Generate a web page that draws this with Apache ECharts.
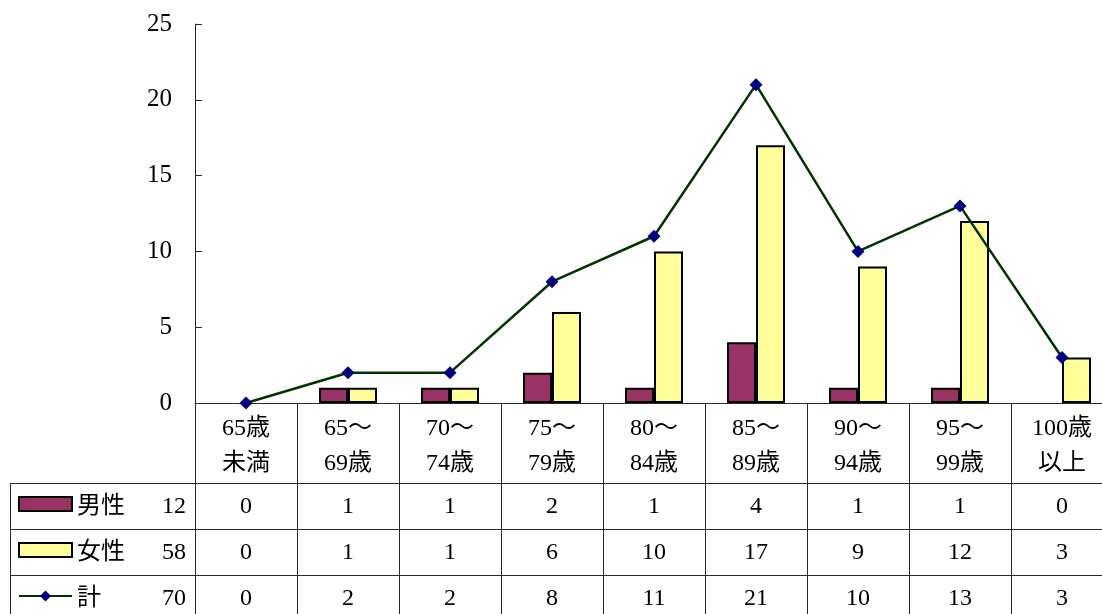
<!DOCTYPE html>
<html>
<head>
<meta charset="utf-8">
<script src="https://cdn.jsdelivr.net/npm/echarts@6/dist/echarts.min.js"></script>
<style>
  html, body { margin: 0; padding: 0; background: #fff; }
  #chart { width: 1102px; height: 614px; }
</style>
</head>
<body>
<div id="chart"></div>
<script>
// 年齢階級別の人数
const categories = ['65歳\n未満', '65～\n69歳', '70～\n74歳', '75～\n79歳', '80～\n84歳', '85～\n89歳', '90～\n94歳', '95～\n99歳', '100歳\n以上'];
const seriesNames = ['男性', '女性', '計'];
const male = [0, 1, 1, 2, 1, 4, 1, 1, 0];
const female = [0, 1, 1, 6, 10, 17, 9, 12, 3];
const total = [0, 2, 2, 8, 11, 21, 10, 13, 3];
// 合計欄（表の左列に記載されている値）
const rowTotals = [12, 58, 70];
const yTicks = [0, 5, 10, 15, 20, 25];

const FONT = '"Liberation Serif", "DejaVu Serif", "Noto Sans CJK JP", serif';
const LINE = '#2a2a2a';
const noZero = a => a.map(v => (v === 0 ? '-' : v));

// one hidden-line category axis per data-table row
function tableRow(values, offset) {
  return {
    type: 'category', data: categories, position: 'bottom', offset: offset,
    axisLine: { show: false }, axisTick: { show: false },
    axisLabel: {
      interval: 0, margin: 9, color: '#000', fontFamily: FONT, fontSize: 24, lineHeight: 30,
      formatter: (v, i) => String(values[i])
    }
  };
}

const chart = echarts.init(document.getElementById('chart'));
chart.setOption({
  animation: false,
  backgroundColor: '#fff',
  grid: { left: 195, top: 24, width: 918, bottom: 211, containLabel: false, outerBoundsMode: 'none' },
  legend: {
    orient: 'vertical', left: 18, top: 489, itemGap: 16, padding: 0, height: 130,
    itemWidth: 53, itemHeight: 14,
    data: [
      { name: seriesNames[0], icon: 'rect' },
      { name: seriesNames[1], icon: 'rect' },
      { name: seriesNames[2] }
    ],
    formatter: n => `{n|${n}}{v|${rowTotals[seriesNames.indexOf(n)]}}`,
    textStyle: {
      rich: {
        n: { fontFamily: FONT, fontSize: 24, color: '#000', width: 60, lineHeight: 30, padding: [6, 0, 0, 0] },
        v: { fontFamily: FONT, fontSize: 24, color: '#000', width: 49, align: 'right', lineHeight: 30, padding: [6, 0, 0, 0] }
      }
    }
  },
  xAxis: [
    {
      type: 'category', data: categories, position: 'bottom',
      axisLine: { lineStyle: { color: LINE, width: 1 } },
      axisTick: { show: true, interval: 0, length: 211, lineStyle: { color: LINE, width: 1 } },
      axisLabel: { interval: 0, margin: 8, color: '#000', fontFamily: FONT, fontSize: 24, lineHeight: 35 }
    },
    tableRow(male, 80),
    tableRow(female, 126),
    tableRow(total, 172)
  ],
  yAxis: {
    type: 'value', min: 0, max: 25, interval: 5,
    axisLine: { show: true, lineStyle: { color: LINE, width: 1 } },
    axisTick: { show: true, inside: true, length: 7, lineStyle: { color: LINE } },
    splitLine: { show: false },
    axisLabel: {
      margin: 23, color: '#000', fontFamily: FONT, fontSize: 25, padding: [9, 0, 0, 0],
      formatter: v => (yTicks.includes(v) ? String(v) : '')
    }
  },
  graphic: [
    { type: 'line', shape: { x1: 10, y1: 483.5, x2: 1102, y2: 483.5 }, style: { stroke: LINE, lineWidth: 1 } },
    { type: 'line', shape: { x1: 10, y1: 529.5, x2: 1102, y2: 529.5 }, style: { stroke: LINE, lineWidth: 1 } },
    { type: 'line', shape: { x1: 10, y1: 575.5, x2: 1102, y2: 575.5 }, style: { stroke: LINE, lineWidth: 1 } },
    { type: 'line', shape: { x1: 10.5, y1: 483, x2: 10.5, y2: 614 }, style: { stroke: LINE, lineWidth: 1 } }
  ],
  series: [
    {
      name: seriesNames[0], type: 'bar', data: noZero(male),
      barWidth: 29, barGap: '0%',
      itemStyle: { color: '#993366', borderColor: '#000', borderWidth: 2 }
    },
    {
      name: seriesNames[1], type: 'bar', data: noZero(female),
      barWidth: 29, barGap: '0%',
      itemStyle: { color: '#FFFF99', borderColor: '#000', borderWidth: 2 }
    },
    {
      name: seriesNames[2], type: 'line', data: total, z: 5,
      symbol: 'diamond', symbolSize: 13, showSymbol: true,
      lineStyle: { color: '#003300', width: 2.5 },
      itemStyle: { color: '#000080' }
    }
  ]
});
</script>
</body>
</html>
